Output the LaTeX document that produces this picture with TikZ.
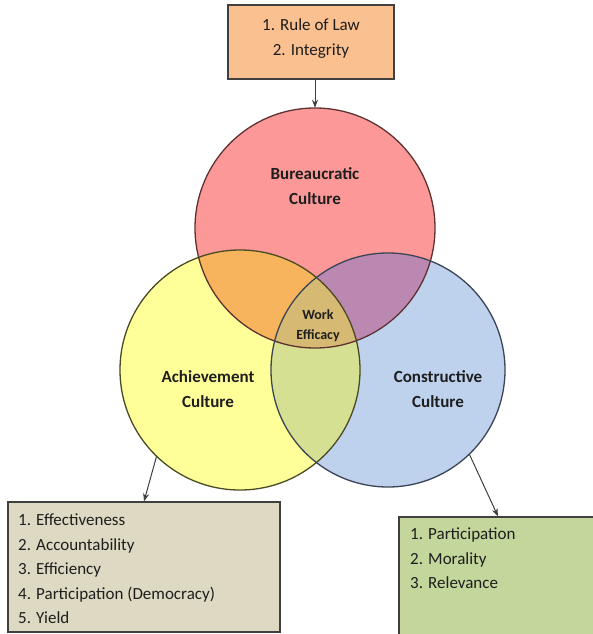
\documentclass[tikz,border=0pt]{standalone}
\usepackage{fontspec}
\setmainfont{Carlito}
\usetikzlibrary{arrows.meta}
\definecolor{cRed}{RGB}{252,152,152}
\definecolor{cYel}{RGB}{255,255,153}
\definecolor{cBlu}{RGB}{190,210,238}
\definecolor{cOra}{RGB}{247,180,92}
\definecolor{cPur}{RGB}{186,136,176}
\definecolor{cGrn}{RGB}{214,224,146}
\definecolor{cMid}{RGB}{214,186,116}
\definecolor{lRed}{RGB}{95,50,50}
\definecolor{lYel}{RGB}{75,75,35}
\definecolor{lBlu}{RGB}{60,68,85}
\definecolor{bTop}{RGB}{250,192,144}
\definecolor{bLeft}{RGB}{221,217,195}
\definecolor{bRight}{RGB}{195,214,155}
\definecolor{txt}{RGB}{30,30,30}
\tikzset{
  venn/.style={circle, inner sep=0pt},
  ring/.style={line width=1.3pt},
  boxnode/.style={draw=black!75, line width=1.2pt, inner sep=0pt},
  lbl/.style={font=\fontsize{17}{25}\selectfont\bfseries, text=txt, align=center},
  lst/.style={font=\fontsize{17}{24.5}\selectfont, text=txt, align=left, inner sep=0pt},
  conn/.style={-{Stealth[length=8pt,width=6pt]}, line width=1pt, draw=black!75}
}
\begin{document}
\begin{tikzpicture}[x=1pt,y=-1pt]
\useasboundingbox (0,0) rectangle (593,634);
% circles
\node[venn, fill=cRed, minimum size=240pt] (bur) at (315,228) {};
\node[venn, fill=cYel, minimum size=240pt] (ach) at (240,370) {};
\node[venn, fill=cBlu, minimum size=234pt] (con) at (388,370) {};
\begin{scope}
  \clip (bur.center) circle[radius=120];
  \fill[cOra] (ach.center) circle[radius=120];
  \fill[cPur] (con.center) circle[radius=117];
\end{scope}
\begin{scope}
  \clip (ach.center) circle[radius=120];
  \fill[cGrn] (con.center) circle[radius=117];
  \clip (con.center) circle[radius=117];
  \fill[cMid] (bur.center) circle[radius=120];
\end{scope}
\draw[ring, lRed] (bur.center) circle[radius=120];
\draw[ring, lYel] (ach.center) circle[radius=120];
\draw[ring, lBlu] (con.center) circle[radius=117];
% labels
\node[lbl] (burl) at (315,186) {Bureaucratic\\Culture};
\node[lbl] (achl) at (208,389) {Achievement\\Culture};
\node[lbl] (conl) at (438,389) {Constructive\\Culture};
\node[lbl, font=\fontsize{14}{20}\selectfont\bfseries] (wel) at (318,326) {Work\\Efficacy};
% boxes
\node[boxnode, fill=bTop, minimum width=166pt, minimum height=74pt] (top) at (311,42) {};
\node[lst, align=center] (topt) at (311,38.5) {1. Rule of Law\\2. Integrity};
\node[boxnode, fill=bLeft, minimum width=272pt, minimum height=130pt] (lbox) at (144,567) {};
\node[lst, anchor=west] (lboxt) at (18,569) {1. Effectiveness\\2. Accountability\\3. Efficiency\\4. Participation (Democracy)\\5. Yield};
\node[boxnode, fill=bRight, minimum width=198pt, minimum height=130pt] (rbox) at (498,582) {};
\node[lst, anchor=west] (rboxt) at (410,558.5) {1. Participation\\2. Morality\\3. Relevance};
% connectors
\draw[conn] (top.south -| bur.north) -- (bur.north);
\draw[conn] (ach.226) -- (lbox.north);
\draw[conn] (con.314) -- (rbox.north);
\end{tikzpicture}
\end{document}
